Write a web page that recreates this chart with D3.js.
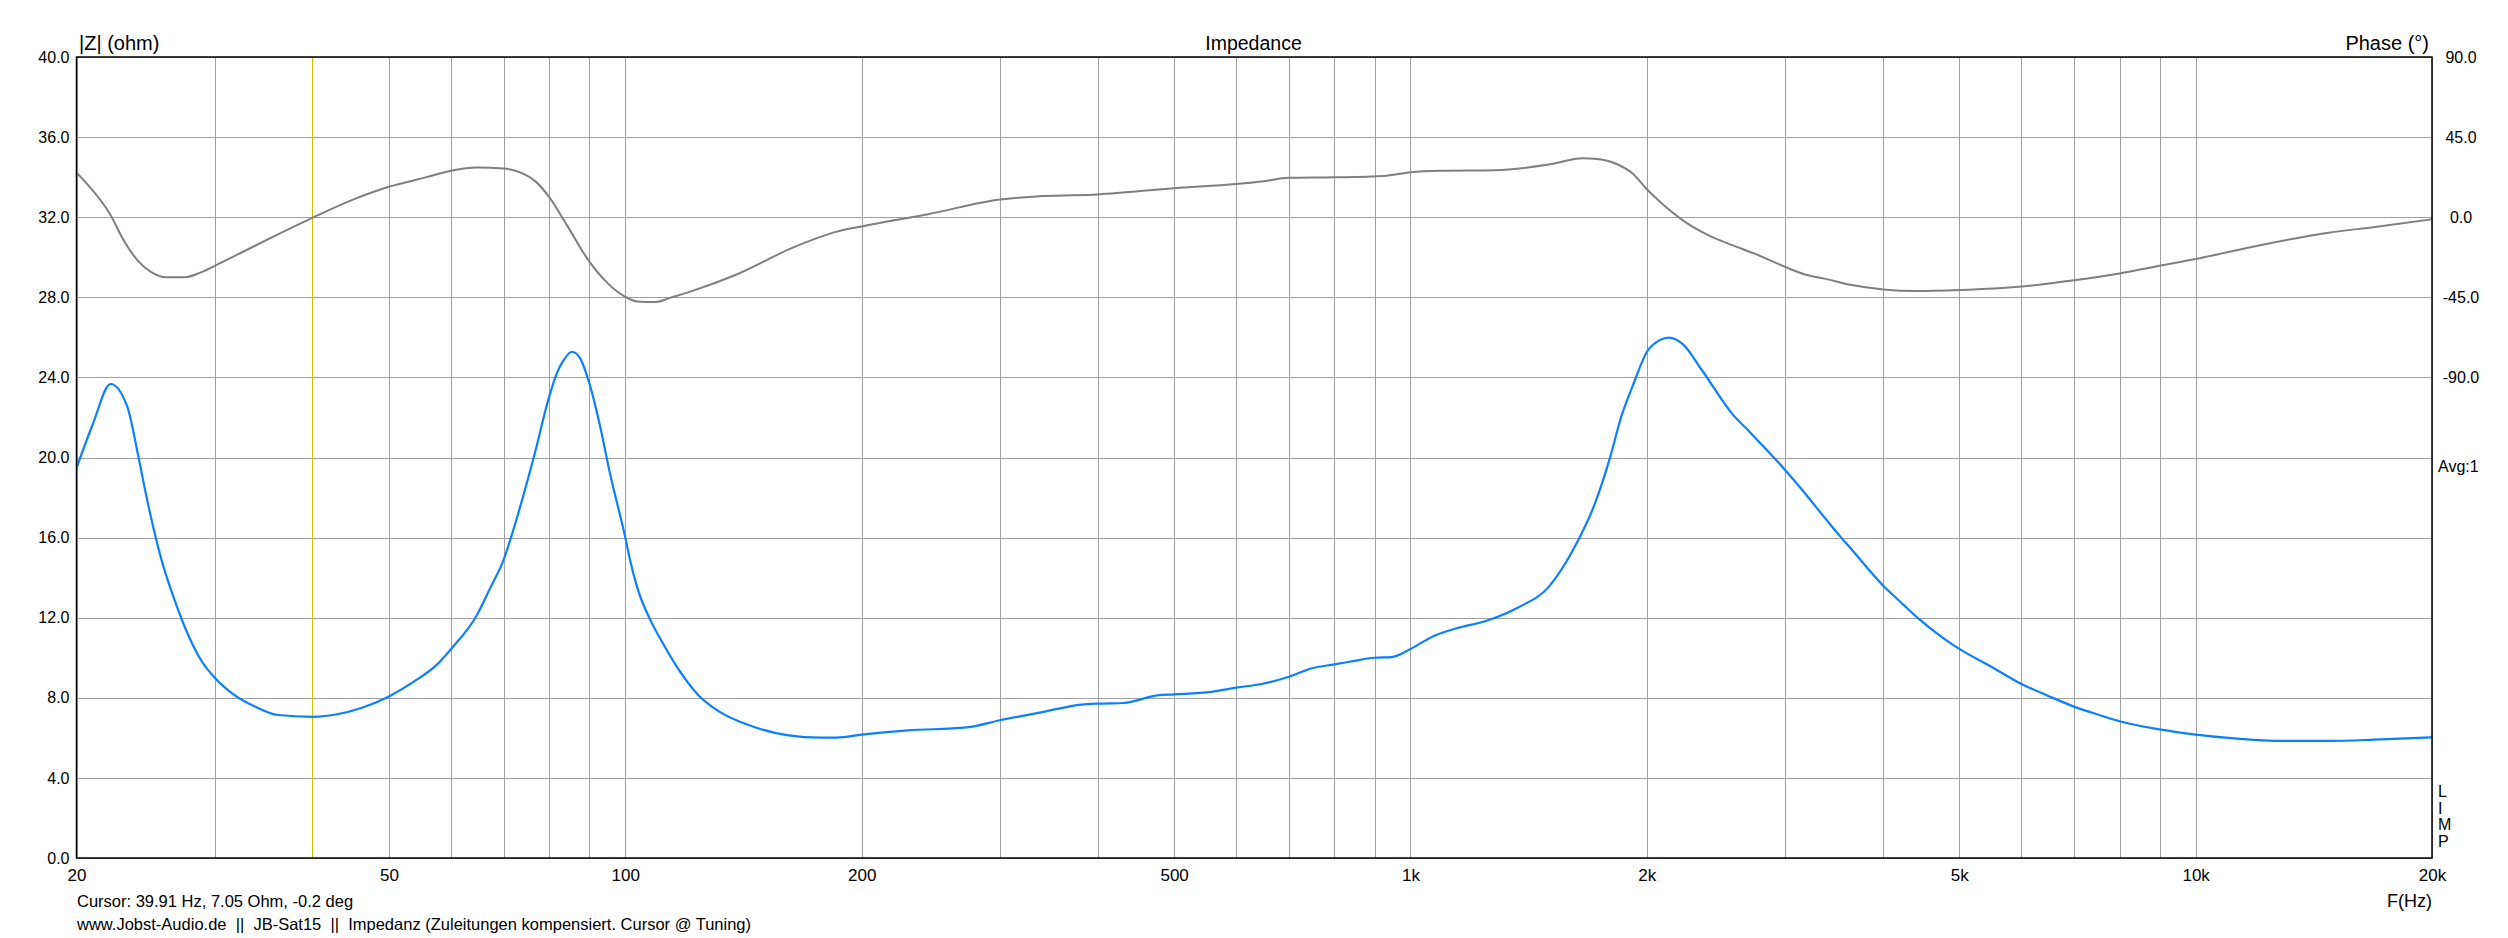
<!DOCTYPE html>
<html>
<head>
<meta charset="utf-8">
<script src="https://cdn.jsdelivr.net/npm/d3@7"></script>
<style>
  html, body { margin: 0; padding: 0; background: #fff; }
  svg { display: block; font-family: "Liberation Sans", Arial, sans-serif; }
</style>
</head>
<body>
<svg id="chart" width="2508" height="938"></svg>
<script>
// ---- data ----
const impFreq = [20, 20.98, 22.1, 23.2, 24.0, 24.6, 25.7, 26.6, 27.5, 28.9, 30, 31.5, 33.8, 36.1, 40, 43.1, 46.0, 50, 53.6, 57.6, 60, 64.7, 67.4, 70, 72.0, 76.4, 80, 81.8, 83.5, 85.5, 87.6, 90, 92.9, 95.6, 100, 101.4, 103.5, 108.1, 111, 115.8, 124, 131.3, 145, 160.6, 177.6, 186, 200, 229, 272, 300, 341, 381, 400, 431, 476, 500, 558, 600, 646, 700, 747, 800, 837, 900, 946, 1000, 1071, 1145, 1253, 1371, 1500, 1622, 1716, 1795, 1856, 1920, 2000, 2077, 2135, 2222, 2350, 2569, 2710, 3000, 3145, 3367, 3528, 3633, 4000, 4205, 4418, 4776, 5000, 5500, 6000, 6514, 7000, 7538, 8000, 9000, 10000, 11290, 12630, 14780, 16910, 20000];
const impOhm = [19.47, 21.66, 23.67, 22.56, 19.98, 17.9, 14.8, 13.0, 11.5, 9.8, 9.0, 8.25, 7.55, 7.14, 7.05, 7.19, 7.48, 8.07, 8.77, 9.67, 10.44, 12.12, 13.54, 14.9, 16.38, 19.96, 23.04, 24.2, 24.87, 25.28, 24.95, 23.7, 21.54, 19.21, 16.0, 14.88, 13.54, 11.73, 10.9, 9.67, 8.12, 7.35, 6.58, 6.14, 6.01, 6.01, 6.16, 6.37, 6.52, 6.88, 7.30, 7.66, 7.71, 7.74, 8.12, 8.17, 8.30, 8.51, 8.69, 9.05, 9.46, 9.67, 9.80, 10.0, 10.03, 10.44, 11.09, 11.47, 11.86, 12.51, 13.54, 15.6, 17.66, 19.98, 22.05, 23.6, 25.27, 25.86, 25.99, 25.66, 24.37, 22.18, 21.24, 19.38, 18.44, 17.01, 16.05, 15.48, 13.6, 12.8, 12.02, 10.97, 10.44, 9.54, 8.69, 8.07, 7.56, 7.14, 6.83, 6.42, 6.16, 5.96, 5.85, 5.85, 5.91, 6.03];

const phaseFreq = [20, 20.5, 22.1, 22.9, 24.0, 24.9, 26.0, 27.5, 28.7, 30, 32.5, 36.0, 40, 45.0, 50, 55.4, 60, 64.7, 70, 76.9, 80, 84.3, 90, 94.7, 100, 103.5, 109.5, 114, 121, 138.6, 164, 186, 200, 243, 300, 341, 400, 500, 600, 646, 700, 800, 925, 1000, 1095, 1282, 1500, 1660, 1716, 1837, 1920, 2000, 2099, 2247, 2405, 2569, 2749, 3000, 3181, 3367, 3633, 4000, 4405, 5000, 6000, 7000, 8000, 9000, 10000, 12080, 14780, 16910, 20000];
const phaseDeg = [25.0, 20.0, 1.2, -11.9, -25.0, -30.8, -33.7, -33.7, -31.3, -27.3, -19.7, -9.9, -0.2, 9.9, 17.1, 22.1, 26.1, 27.9, 27.3, 20.0, 11.3, -4.6, -25.0, -36.6, -44.7, -47.3, -47.6, -45.3, -41.8, -32.2, -16.8, -8.1, -5.2, 1.7, 9.9, 11.9, 12.8, 16.3, 18.6, 20.0, 22.1, 22.4, 23.2, 25.3, 26.1, 26.4, 29.6, 33.1, 32.8, 29.6, 24.4, 15.7, 7.0, -3.2, -10.5, -15.7, -20.6, -27.9, -32.2, -34.5, -38.0, -40.6, -41.5, -40.9, -38.9, -35.4, -31.6, -27.3, -23.5, -15.7, -8.7, -5.5, -1.2];

const gridFreqs = [20, 30, 40, 50, 60, 70, 80, 90, 100, 200, 300, 400, 500, 600, 700, 800, 900, 1000, 2000, 3000, 4000, 5000, 6000, 7000, 8000, 9000, 10000, 20000];
const xTickValues = [20, 50, 100, 200, 500, 1000, 2000, 5000, 10000, 20000];
const xTickLabels = ["20", "50", "100", "200", "500", "1k", "2k", "5k", "10k", "20k"];
const zTicks = [0, 4, 8, 12, 16, 20, 24, 28, 32, 36, 40];
const phaseTicks = [90, 45, 0, -45, -90];
const cursorFreq = 39.91;

const titleText = "Impedance";
const leftLabel = "|Z| (ohm)";
const rightLabel = "Phase (°)";
const xLabel = "F(Hz)";
const avgText = "Avg:1";
const sideLetters = ["L", "I", "M", "P"];
const footer1 = "Cursor: 39.91 Hz, 7.05 Ohm, -0.2 deg";
const footer2 = "www.Jobst-Audio.de  ||  JB-Sat15  ||  Impedanz (Zuleitungen kompensiert. Cursor @ Tuning)";

// ---- layout ----
const L = 76.5, R = 2432, T = 57, B = 858;
const svg = d3.select("#chart");
svg.append("rect").attr("width", 2508).attr("height", 938).attr("fill", "#fff");

const x = d3.scaleLog().domain([20, 20000]).range([L, R]);
const yZ = d3.scaleLinear().domain([0, 40]).range([B, T]);
const yP = d3.scaleLinear().domain([-360, 90]).range([B, T]);

const cursorX = Math.round(x(cursorFreq)) + 0.5;
const grid = svg.append("g").attr("shape-rendering", "crispEdges");
grid.selectAll("line.v").data(gridFreqs.filter(f => Math.abs(x(f) - x(cursorFreq)) > 3)).join("line")
  .attr("x1", d => Math.round(x(d)) + 0.5).attr("x2", d => Math.round(x(d)) + 0.5)
  .attr("y1", T).attr("y2", B)
  .attr("stroke", "#a0a0a0").attr("stroke-width", 1);
grid.selectAll("line.h").data(zTicks).join("line")
  .attr("x1", L).attr("x2", R)
  .attr("y1", d => Math.round(yZ(d)) + 0.5).attr("y2", d => Math.round(yZ(d)) + 0.5)
  .attr("stroke", "#a0a0a0").attr("stroke-width", 1);

// cursor line
svg.append("line")
  .attr("x1", cursorX).attr("x2", cursorX)
  .attr("y1", T).attr("y2", B)
  .attr("stroke", "#c8c400").attr("stroke-width", 1).attr("shape-rendering", "crispEdges");

// curves
const impData = impFreq.map((f, i) => [f, impOhm[i]]);
const phData = phaseFreq.map((f, i) => [f, phaseDeg[i]]);
svg.append("clipPath").attr("id", "clip").append("rect")
  .attr("x", L).attr("y", T).attr("width", R - L).attr("height", B - T);

svg.append("path").datum(phData)
  .attr("clip-path", "url(#clip)")
  .attr("fill", "none").attr("stroke", "#7f7f7f").attr("stroke-width", 2)
  .attr("d", d3.line().x(d => x(d[0])).y(d => yP(d[1])).curve(d3.curveMonotoneX));

svg.append("path").datum(impData)
  .attr("clip-path", "url(#clip)")
  .attr("fill", "none").attr("stroke", "#0a80ff").attr("stroke-width", 2.2)
  .attr("d", d3.line().x(d => x(d[0])).y(d => yZ(d[1])).curve(d3.curveMonotoneX));

// frame
svg.append("rect").attr("x", L).attr("y", T).attr("width", R - L).attr("height", B - T)
  .attr("fill", "none").attr("stroke", "#000").attr("stroke-width", 1.5);

// axes (labels only)
const axL = svg.append("g").attr("transform", `translate(${L},0)`)
  .call(d3.axisLeft(yZ).tickValues(zTicks).tickSize(0).tickPadding(7).tickFormat(d => d.toFixed(1)));
const axR = svg.append("g").attr("transform", `translate(${R},0)`)
  .call(d3.axisRight(yP).tickValues(phaseTicks).tickSize(0).tickPadding(0).tickFormat(d => d.toFixed(1)));
const axB = svg.append("g").attr("transform", `translate(0,${B})`)
  .call(d3.axisBottom(x).tickValues(xTickValues).tickSize(0).tickPadding(11).tickFormat((d, i) => xTickLabels[i]));
[axL, axR, axB].forEach(a => {
  a.select(".domain").remove();
  a.selectAll("text").attr("fill", "#000").attr("font-family", '"Liberation Sans", Arial, sans-serif');
});
axL.selectAll("text").attr("font-size", 16);
axR.selectAll("text").attr("font-size", 16).attr("text-anchor", "middle").attr("x", 29);
axB.selectAll("text").attr("font-size", 17);

// texts
const txt = (s, xx, yy, size, anchor) => svg.append("text").text(s)
  .attr("x", xx).attr("y", yy).attr("font-size", size)
  .attr("text-anchor", anchor || "start").attr("fill", "#000");
txt(leftLabel, 79, 50, 20);
txt(titleText, 1253.5, 49.5, 19.5, "middle");
txt(rightLabel, 2429, 50, 20, "end");
txt(avgText, 2438, 472, 16);
sideLetters.forEach((c, i) => txt(c, 2438, 797 + i * 16.7, 16));
txt(xLabel, 2432, 907, 18, "end");
txt(footer1, 77, 907, 16.5);
txt(footer2, 77, 930, 16.5).style("white-space", "pre");
</script>
</body>
</html>
